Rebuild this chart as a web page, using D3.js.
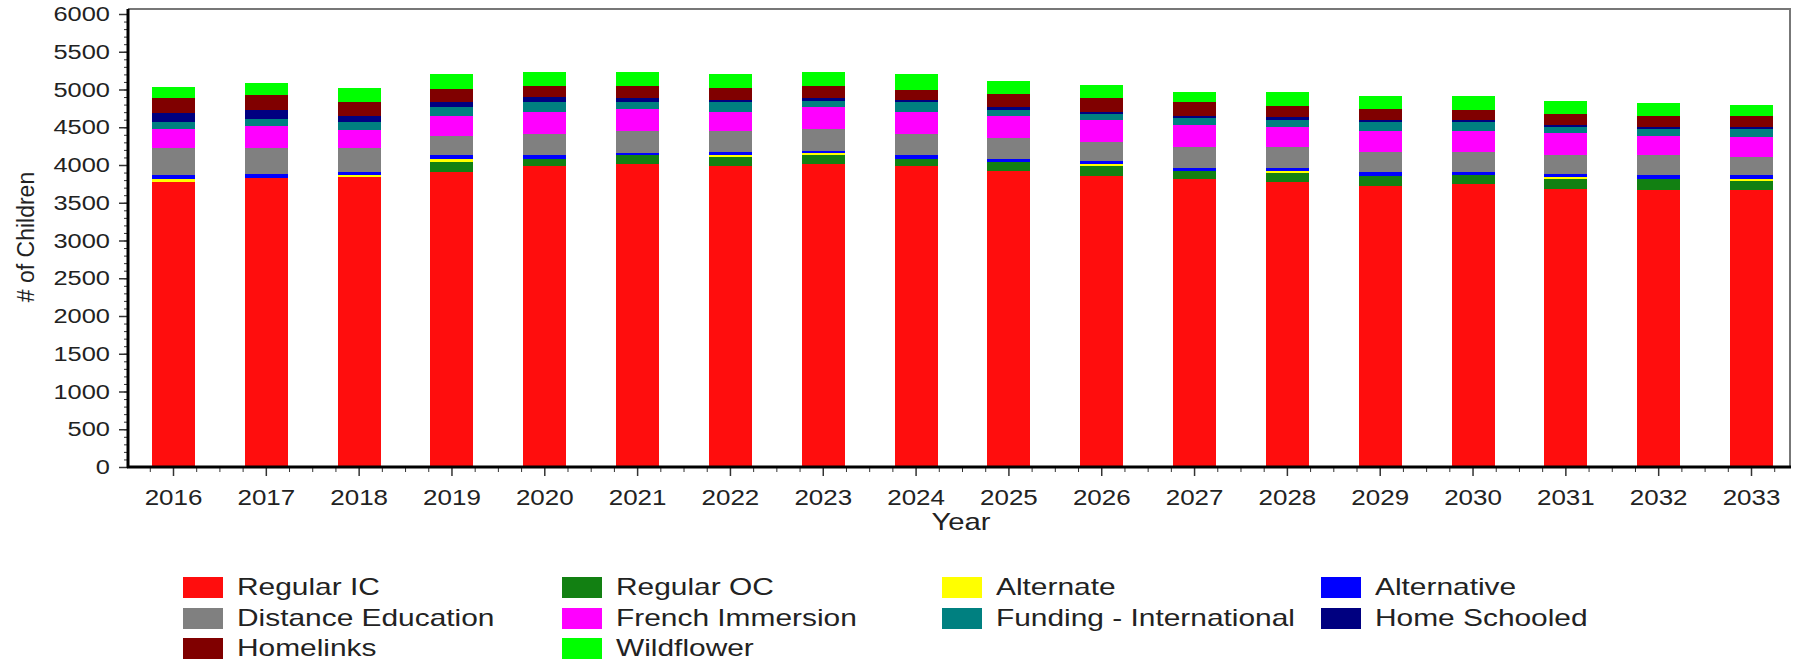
<!DOCTYPE html>
<html>
<head>
<meta charset="utf-8">
<script src="https://cdn.jsdelivr.net/npm/d3@7"></script>
<style>
  html, body { margin: 0; padding: 0; background: #fff; }
  svg { display: block; }
  text { font-family: "Liberation Sans", Arial, sans-serif; fill: #222; }
</style>
</head>
<body>
<svg id="chart" width="1800" height="661"></svg>
<script>
const years = ["2016","2017","2018","2019","2020","2021","2022","2023","2024","2025","2026","2027","2028","2029","2030","2031","2032","2033"];
const yTicks = [0,500,1000,1500,2000,2500,3000,3500,4000,4500,5000,5500,6000];

const seriesNames = ["Regular IC","Regular OC","Alternate","Alternative","Distance Education","French Immersion","Funding - International","Home Schooled","Homelinks","Wildflower"];
const seriesColors = ["#ff0d0d","#128012","#ffff00","#0000ff","#808080","#ff00ff","#008080","#000080","#800000","#00ff00"];

const regularIC    = [3780, 3825, 3839, 3905, 3985, 4007, 3993, 4016, 3985, 3914, 3852, 3808, 3773, 3720, 3751, 3685, 3663, 3663];
const regularOC    = [0, 0, 0, 132, 101, 128, 111, 119, 97, 123, 133, 119, 123, 128, 110, 123, 145, 119];
const alternate    = [35, 0, 35, 40, 0, 0, 35, 22, 0, 0, 31, 0, 31, 0, 0, 31, 0, 35];
const alternative  = [53, 55, 31, 49, 53, 26, 31, 26, 57, 36, 35, 36, 36, 57, 44, 44, 53, 44];
const distanceEd   = [353, 346, 318, 264, 273, 287, 278, 295, 273, 287, 251, 282, 273, 265, 265, 243, 265, 243];
const frenchImm    = [256, 287, 247, 265, 296, 295, 260, 296, 296, 286, 296, 291, 273, 286, 286, 295, 264, 264];
const fundingIntl  = [97, 91, 97, 110, 123, 88, 123, 79, 123, 88, 79, 88, 93, 111, 111, 88, 89, 111];
const homeSchooled = [111, 122, 88, 66, 67, 58, 31, 36, 31, 31, 31, 31, 31, 31, 31, 27, 30, 30];
const homelinks    = [198, 206, 180, 177, 154, 163, 159, 163, 133, 177, 176, 176, 154, 145, 136, 141, 137, 137];
const wildflower   = [147, 159, 190, 198, 185, 185, 185, 185, 211, 176, 177, 141, 185, 168, 177, 176, 177, 150];

const seriesValues = [regularIC, regularOC, alternate, alternative, distanceEd, frenchImm, fundingIntl, homeSchooled, homelinks, wildflower];

const rows = years.map((yr, i) => {
  const r = { year: yr };
  seriesNames.forEach((n, k) => { r[n] = seriesValues[k][i]; });
  return r;
});

const svg = d3.select("#chart");
const pLeft = 128, pRight = 1790, pTop = 14, pBottom = 467;

const x = d3.scaleBand().domain(years).range([pLeft, 1797]).paddingInner(0.537).paddingOuter(0.2586);
const y = d3.scaleLinear().domain([0, 6000]).range([pBottom, pTop]);
const color = d3.scaleOrdinal().domain(seriesNames).range(seriesColors);

const stacked = d3.stack().keys(seriesNames)(rows);

// bars
const layers = svg.append("g").selectAll("g").data(stacked).join("g")
  .attr("fill", d => color(d.key));
layers.selectAll("rect").data(d => d).join("rect")
  .attr("x", d => x(d.data.year))
  .attr("width", x.bandwidth())
  .attr("y", d => y(d[1]))
  .attr("height", d => Math.max(0, y(d[0]) - y(d[1])))
  .attr("shape-rendering", "crispEdges");

// frame: top/right grey
svg.append("line").attr("x1", pLeft).attr("x2", pRight + 1).attr("y1", 9).attr("y2", 9)
  .attr("stroke", "#777").attr("stroke-width", 2);
svg.append("line").attr("x1", pRight).attr("x2", pRight).attr("y1", 9).attr("y2", pBottom)
  .attr("stroke", "#777").attr("stroke-width", 2);

function stretchedText(g, tx, ty, str, size, sx, anchor, rotate, sy) {
  return g.append("text")
    .attr("transform", `translate(${tx},${ty})` + (rotate ? ` rotate(${rotate})` : "") + ` scale(${sx},${sy || 1})`)
    .attr("font-size", size)
    .attr("text-anchor", anchor)
    .text(str);
}

// y axis
const yAxis = d3.axisLeft(y).tickValues(yTicks).tickSize(9).tickFormat("");
const gy = svg.append("g").attr("transform", `translate(${pLeft},0)`).call(yAxis);
gy.select(".domain").remove();
gy.selectAll(".tick line").attr("stroke", "#333").attr("stroke-width", 1.5);
const yMinor = d3.axisLeft(y).tickValues(d3.range(0, 6001, 100)).tickSize(4).tickFormat("");
const gym = svg.append("g").attr("transform", `translate(${pLeft},0)`).call(yMinor);
gym.select(".domain").remove();
gym.selectAll(".tick line").attr("stroke", "#333");
yTicks.forEach(v => stretchedText(svg, 110, y(v) + 7, String(v), 20, 1.27, "end"));

// x axis
const xAxis = d3.axisBottom(x).tickSize(9).tickFormat("");
const gx = svg.append("g").attr("transform", `translate(0,${pBottom})`).call(xAxis);
gx.select(".domain").remove();
gx.selectAll(".tick line").attr("stroke", "#333").attr("stroke-width", 1.5);
const minorX = [];
years.forEach(yr => {
  const c = x(yr) + x.bandwidth() / 2, s = x.step();
  [c - s * 0.25, c + s * 0.25, c + s * 0.5].forEach(v => { if (v < pRight - 2) minorX.push(v); });
});
svg.append("g").selectAll("line").data(minorX).join("line")
  .attr("x1", d => d).attr("x2", d => d).attr("y1", pBottom).attr("y2", pBottom + 5)
  .attr("stroke", "#333");
years.forEach(yr => stretchedText(svg, x(yr) + x.bandwidth() / 2, 505, yr, 22, 1.18, "middle"));

// axis lines (thick black)
svg.append("line").attr("x1", pLeft).attr("x2", pLeft).attr("y1", 9).attr("y2", pBottom + 1)
  .attr("stroke", "#000").attr("stroke-width", 3);
svg.append("line").attr("x1", pLeft - 1).attr("x2", pRight + 1).attr("y1", pBottom).attr("y2", pBottom)
  .attr("stroke", "#000").attr("stroke-width", 3);

// axis titles
stretchedText(svg, 961, 530, "Year", 24, 1.22, "middle");
stretchedText(svg, 34, 237, "# of Children", 23, 1, "middle", -90, 1.08);

// legend
const legendCols = [183, 562, 942, 1321];
const legendRows = [577, 608, 638];
const lg = svg.append("g");
seriesNames.forEach((name, i) => {
  const col = i % 4, row = Math.floor(i / 4);
  const lx = legendCols[col], ly = legendRows[row];
  lg.append("rect").attr("x", lx).attr("y", ly).attr("width", 40).attr("height", 21)
    .attr("fill", color(name));
  stretchedText(lg, lx + 54, ly + 18, name, 23, 1.3, "start");
});
</script>
</body>
</html>
